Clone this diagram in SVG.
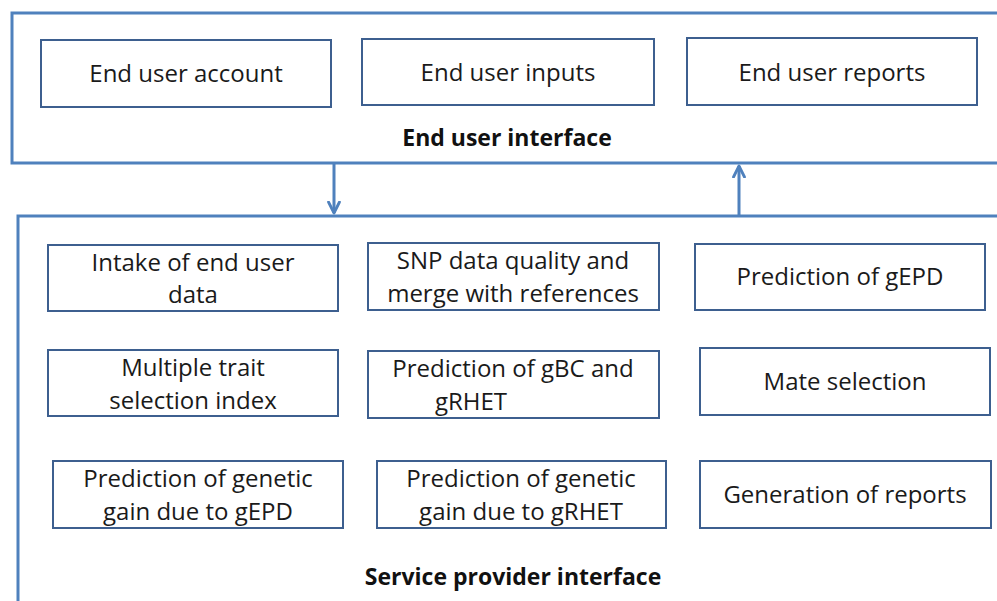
<svg xmlns="http://www.w3.org/2000/svg" width="997" height="601" viewBox="0 0 997 601">
<defs>
<style>
.frame{fill:none;stroke:#4f81bd;stroke-width:3}
.box{fill:#fff;stroke:#3d5f8f;stroke-width:2}
.t{font-family:"Open Sans","Liberation Sans",sans-serif;font-size:24px;fill:#1a1a1a;text-anchor:middle}
.b{font-family:"Open Sans","Liberation Sans",sans-serif;font-size:23px;font-weight:bold;fill:#111;text-anchor:middle}
.c{fill:none;stroke:#4f81bd;stroke-width:3}
</style>
<marker id="ah" viewBox="0 0 14 14" refX="12" refY="7" markerWidth="14" markerHeight="14" markerUnits="userSpaceOnUse" orient="auto">
<path d="M1,1.5 L12,7 L1,12.5" fill="none" stroke="#4f81bd" stroke-width="2.8" stroke-linecap="round" stroke-linejoin="round"/>
</marker>
</defs>
<rect width="997" height="601" fill="#fff"/>
<g id="end-user-interface">
<path class="frame" d="M1000,13 H12 V163 H1000"/>
<text class="b" x="507" y="146">End user interface</text>
</g>
<g id="service-provider-interface">
<path class="frame" d="M1000,216 H18 V605"/>
<text class="b" x="513" y="585">Service provider interface</text>
</g>
<g id="connectors">
<line class="c" x1="334" y1="164" x2="334" y2="213" marker-end="url(#ah)"/>
<line class="c" x1="739" y1="215" x2="739" y2="166" marker-end="url(#ah)"/>
</g>
<g id="end-user-account"><rect class="box" x="41" y="40" width="290" height="67"/><text class="t" x="186" y="82">End user account</text></g>
<g id="end-user-inputs"><rect class="box" x="362" y="39" width="292" height="66"/><text class="t" x="508" y="81">End user inputs</text></g>
<g id="end-user-reports"><rect class="box" x="687" y="38" width="290" height="67"/><text class="t" x="832" y="81">End user reports</text></g>
<g id="intake"><rect class="box" x="48" y="245" width="290" height="66"/><text class="t" x="193" y="271">Intake of end user</text><text class="t" x="193" y="303">data</text></g>
<g id="snp"><rect class="box" x="368" y="243" width="291" height="67"/><text class="t" x="513" y="269">SNP data quality and</text><text class="t" x="513" y="302">merge with references</text></g>
<g id="gepd"><rect class="box" x="695" y="244" width="290" height="66"/><text class="t" x="840" y="285">Prediction of gEPD</text></g>
<g id="mti"><rect class="box" x="48" y="350" width="290" height="66"/><text class="t" x="193" y="376">Multiple trait</text><text class="t" x="193" y="409">selection index</text></g>
<g id="gbc"><rect class="box" x="368" y="351" width="291" height="67"/><text class="t" x="513" y="377">Prediction of gBC and</text><text class="t" x="471" y="410">gRHET</text></g>
<g id="mate"><rect class="box" x="700" y="348" width="290" height="67"/><text class="t" x="845" y="390">Mate selection</text></g>
<g id="gain-gepd"><rect class="box" x="53" y="461" width="290" height="67"/><text class="t" x="198" y="487">Prediction of genetic</text><text class="t" x="198" y="520">gain due to gEPD</text></g>
<g id="gain-grhet"><rect class="box" x="377" y="461" width="289" height="67"/><text class="t" x="521" y="487">Prediction of genetic</text><text class="t" x="521" y="520">gain due to gRHET</text></g>
<g id="reports"><rect class="box" x="700" y="461" width="291" height="67"/><text class="t" x="845" y="503">Generation of reports</text></g>
</svg>
